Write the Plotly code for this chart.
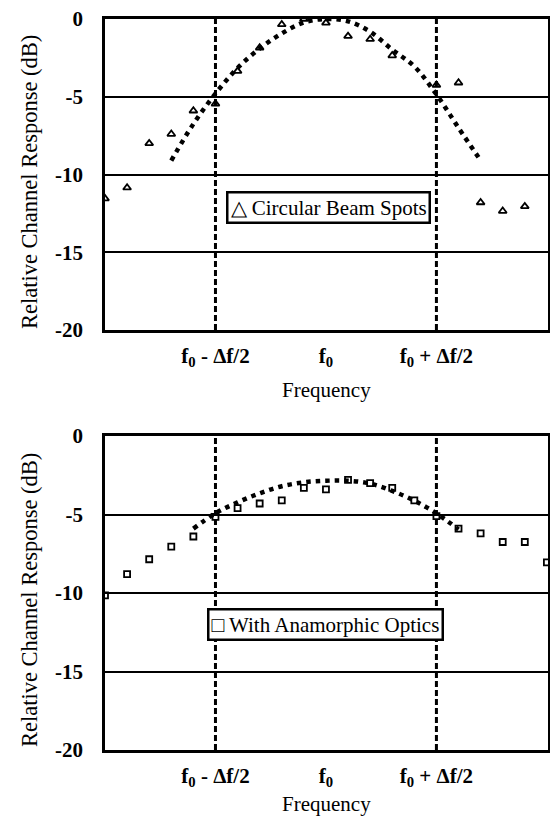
import plotly.graph_objects as go

# ---- data ----
freq_top = [-10, -9, -8, -7, -6, -5, -4, -3, -2, -1, 0, 1, 2, 3, 4, 5, 6, 7, 8, 9]
circular_db = [-11.55, -10.85, -8.0, -7.4, -5.9, -5.45, -3.35, -1.85, -0.35, 0.0,
               -0.25, -1.1, -1.3, -2.35, None, -4.25, -4.1, -11.8, -12.35, -12.05]

fit_top_x = [-7, -6, -5, -4, -3, -2, -1, 0, 1, 2, 3, 4, 5, 6, 7]
fit_top_db = [-9.1, -6.75, -4.8, -3.15, -1.9, -0.93, -0.22, 0.0, -0.15, -0.82,
              -1.97, -3.05, -4.85, -7.0, -9.1]

freq_bot = [-10, -9, -8, -7, -6, -5, -4, -3, -2, -1, 0, 1, 2, 3, 4, 5, 6, 7, 8, 9, 10]
anamorphic_db = [-10.15, -8.8, -7.85, -7.05, -6.4, -5.15, -4.6, -4.3, -4.1, -3.3,
                 -3.4, -2.8, -3.0, -3.3, -4.1, -5.1, -5.9, -6.2, -6.75, -6.75, -8.05]

fit_bot_x = [-6, -5, -4, -3, -2, -1, 0, 1, 2, 3, 4, 5, 6]
fit_bot_db = [-5.9, -4.92, -4.23, -3.65, -3.2, -2.95, -2.85, -2.85, -3.03, -3.5,
              -4.12, -4.93, -5.95]

band_edges = [-5, 5]
tick_vals = [-5, 0, 5]
tick_text = ["f<sub>0</sub> - Δf/2", "f<sub>0</sub>", "f<sub>0</sub> + Δf/2"]
y_ticks = [0, -5, -10, -15, -20]
y_tick_text = ["0", "-5", "-10", "-15", "-20"]
legend_top = "△ Circular Beam Spots"
legend_bot = "□ With Anamorphic Optics"
x_title = "Frequency"
y_title = "Relative Channel Response (dB)"

FONT = "Liberation Serif"
W, H = 550, 819

fig = go.Figure()

def add_panel(n, xs, ys, sym, msize, fx, fy):
    xa = "x" if n == 1 else "x2"
    ya = "y" if n == 1 else "y2"
    for e in band_edges:
        fig.add_trace(go.Scatter(x=[e, e], y=[-20, 0], mode="lines", xaxis=xa, yaxis=ya,
                                 line=dict(color="black", width=3, dash="6px,3px"),
                                 showlegend=False, hoverinfo="skip"))
    fig.add_trace(go.Scatter(x=fx, y=fy, mode="lines", xaxis=xa, yaxis=ya,
                             line=dict(color="black", width=4.5, dash="4.5px,5px", shape="spline"),
                             showlegend=False, hoverinfo="skip"))
    fig.add_trace(go.Scatter(x=xs, y=ys, mode="markers", xaxis=xa, yaxis=ya,
                             marker=dict(symbol=sym, size=msize, color="black",
                                         line=dict(color="black", width=1.8)),
                             showlegend=False))

add_panel(1, freq_top, circular_db, "triangle-up-open", 7, fit_top_x, fit_top_db)
add_panel(2, freq_bot, anamorphic_db, "square-open", 6, fit_bot_x, fit_bot_db)

xdom = [105 / W, 548 / W]
dom_top = [1 - 330 / H, 1 - 19 / H]
dom_bot = [1 - 750 / H, 1 - 436 / H]

axis_common_x = dict(range=[-10, 10.05], tickvals=tick_vals, ticktext=tick_text,
                     showgrid=False, zeroline=False, showline=True, mirror=True,
                     linecolor="black", linewidth=2.5, ticks="", ticklabelstandoff=5,
                     automargin=False,
                     tickfont=dict(family=FONT, size=21, color="black", weight="bold"))
axis_common_y = dict(range=[-20, 0], tickvals=y_ticks, ticktext=y_tick_text,
                     showgrid=True, gridcolor="black",
                     gridwidth=2, zeroline=False, showline=True, mirror=True,
                     linecolor="black", linewidth=2.5, ticks="", ticklabelstandoff=15,
                     automargin=False,
                     tickfont=dict(family=FONT, size=21, color="black", weight="bold"))

fig.update_layout(
    width=W, height=H, margin=dict(l=0, r=0, t=0, b=0, autoexpand=False),
    paper_bgcolor="white", plot_bgcolor="white", showlegend=False,
    xaxis=dict(domain=xdom, anchor="y", **axis_common_x),
    yaxis=dict(domain=dom_top, anchor="x", **axis_common_y),
    xaxis2=dict(domain=xdom, anchor="y2", **axis_common_x),
    yaxis2=dict(domain=dom_bot, anchor="x2", **axis_common_y),
)

ann = []
# legend boxes
ann.append(dict(x=0.1, y=-12.1, xref="x", yref="y", text=legend_top, showarrow=False,
                font=dict(family=FONT, size=21, color="black"), bgcolor="white",
                bordercolor="black", borderwidth=2.5, borderpad=2))
ann.append(dict(x=0.0, y=-12.0, xref="x2", yref="y2", text=legend_bot, showarrow=False,
                font=dict(family=FONT, size=21, color="black"), bgcolor="white",
                bordercolor="black", borderwidth=2.5, borderpad=2))
# axis titles
for yc, xc in [(182, 390), (600, 804)]:
    ann.append(dict(x=29 / W, y=1 - yc / H, xref="paper", yref="paper", text=y_title,
                    textangle=-90, showarrow=False, xanchor="center", yanchor="middle",
                    font=dict(family=FONT, size=22.5, color="black")))
    ann.append(dict(x=(105 + 548) / 2 / W, y=1 - xc / H, xref="paper", yref="paper",
                    text=x_title, showarrow=False, xanchor="center", yanchor="middle",
                    font=dict(family=FONT, size=21, color="black")))
fig.update_layout(annotations=ann)

fig.write_html("out.html", config={"displayModeBar": False},
               post_script="document.body.style.margin='0';")
